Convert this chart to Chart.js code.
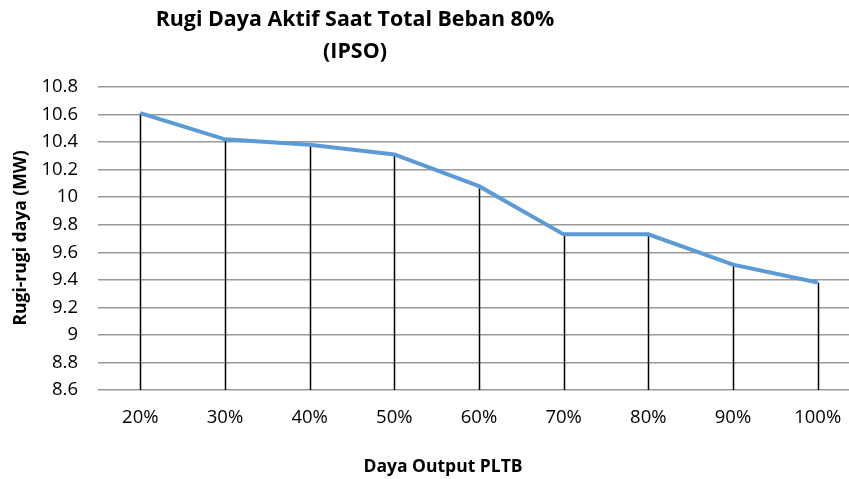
<!DOCTYPE html>
<html>
<head>
<meta charset="utf-8">
<script src="https://cdn.jsdelivr.net/npm/chart.js@4.4.0/dist/chart.umd.min.js"></script>
<style>
  body { margin: 0; overflow: hidden; background: #fff; }
  #wrap { width: 862px; height: 479px; }
</style>
</head>
<body>
<div id="wrap"><canvas id="canvas"></canvas></div>
<script>
const titleLines = ['Rugi Daya Aktif Saat Total Beban 80%', '(IPSO)']
const xTitle = 'Daya Output PLTB'
const yTitle = 'Rugi-rugi daya (MW)'
const categories = ['20%', '30%', '40%', '50%', '60%', '70%', '80%', '90%', '100%']
const rugiDaya = [10.61, 10.42, 10.38, 10.31, 10.08, 9.73, 9.73, 9.51, 9.38]
const yMin = 8.6
const yMax = 10.8
const yStep = 0.2

const fontFamily = '"Open Sans", sans-serif'

// garis jatuh hitam dari tiap titik ke dasar plot
const dropLines = {
    id: 'dropLines',
    beforeDatasetsDraw(chart) {
        const { ctx, chartArea } = chart
        const meta = chart.getDatasetMeta(0)
        ctx.save()
        ctx.strokeStyle = '#000'
        ctx.lineWidth = 1.5
        meta.data.forEach(pt => {
            const x = Math.round(pt.x) + 0.5
            ctx.beginPath()
            ctx.moveTo(x, pt.y)
            ctx.lineTo(x, chartArea.bottom)
            ctx.stroke()
        })
        ctx.restore()
    }
}

const texts = {
    id: 'texts',
    afterDraw(chart) {
        const { ctx } = chart
        ctx.save()
        ctx.fillStyle = '#000'
        ctx.textAlign = 'center'
        ctx.textBaseline = 'alphabetic'
        ctx.font = 'bold 21.4px ' + fontFamily
        ctx.fillText(titleLines[0], 355, 26)
        ctx.fillText(titleLines[1], 355, 58)

        ctx.font = 'bold 17.5px ' + fontFamily
        ctx.textBaseline = 'middle'
        ctx.fillText(xTitle, 443, 467)

        ctx.translate(21, 238)
        ctx.rotate(-Math.PI / 2)
        ctx.fillText(yTitle, 0, 0)
        ctx.restore()
    }
}

const configChart = {
    type: 'line',
    data: {
        labels: categories,
        datasets: [{
            data: rugiDaya,
            borderColor: '#5B9BD5',
            borderWidth: 4,
            pointRadius: 0,
            tension: 0,
            fill: false
        }]
    },
    plugins: [dropLines, texts],
    options: {
        responsive: true,
        maintainAspectRatio: false,
        animation: false,
        layout: { padding: { top: 87, right: 2, left: 0, bottom: 0 } },
        plugins: {
            legend: { display: false },
            tooltip: { enabled: false },
            title: { display: false }
        },
        scales: {
            x: {
                offset: true,
                grid: { display: false, drawTicks: false, offset: true },
                border: { display: false },
                ticks: {
                    color: '#000',
                    padding: 17,
                    font: { family: fontFamily, size: 18.5 },
                    maxRotation: 0
                },
                afterFit(scale) { scale.height = 89 }
            },
            y: {
                min: yMin,
                max: yMax,
                grid: { color: '#999', lineWidth: 1.5, drawTicks: false },
                border: { display: false },
                ticks: {
                    stepSize: yStep,
                    color: '#000',
                    padding: 20,
                    font: { family: fontFamily, size: 18.5 },
                    callback: v => String(Number(v.toFixed(1)))
                },
                afterFit(scale) { scale.width = 98 }
            }
        }
    }
}

const canvas = document.getElementById('canvas')
const myChart = new Chart(canvas, configChart)
</script>
</body>
</html>
